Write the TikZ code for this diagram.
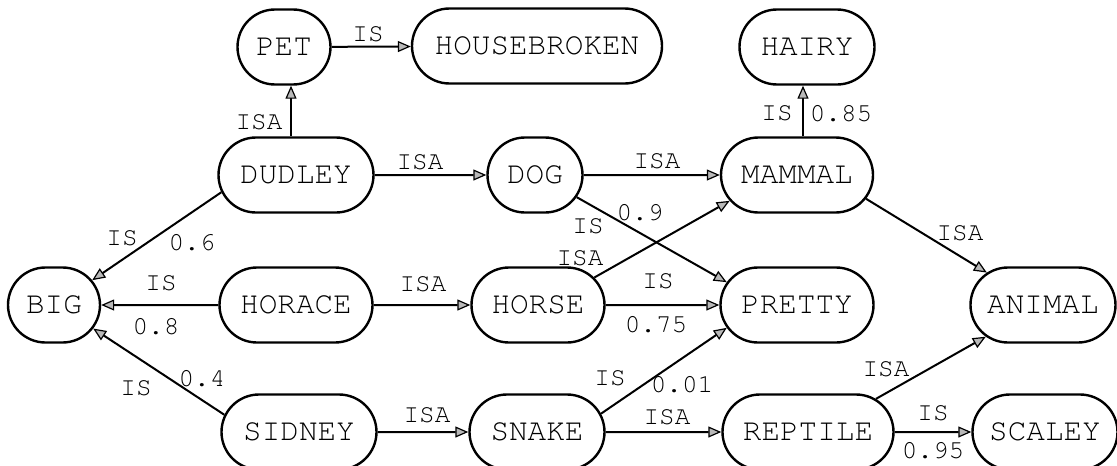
\documentclass[tikz,border=0pt]{standalone}
\usepackage[T1]{fontenc}
\usetikzlibrary{shapes.misc,arrows.meta}
\newcommand{\nodefont}{\fontfamily{pcr}\fontseries{m}\fontsize{31}{31}\selectfont}
\newcommand{\labfont}{\fontfamily{pcr}\fontseries{m}\fontsize{26}{26}\selectfont}
\begin{document}
\begin{tikzpicture}[x=1pt,y=-1pt,
  box/.style={rounded rectangle, draw, line width=2.4pt, minimum height=75pt,
    inner xsep=0pt, inner ysep=0pt, font=\nodefont},
  lab/.style={font=\labfont, inner sep=0pt},
  arr/.style={line width=2pt, -{Triangle[length=13pt,width=11pt,fill=gray!55,line width=1.2pt]}}]
\useasboundingbox (0,0) rectangle (1117,466);
% nodes
\node[box, minimum width=93pt]  (pet)     at (284,47)  {PET};
\node[box, minimum width=250pt] (hb)      at (537,46)  {HOUSEBROKEN};
\node[box, minimum width=135pt] (hairy)   at (807,47)  {HAIRY};
\node[box, minimum width=155pt] (dudley)  at (296,175) {DUDLEY};
\node[box, minimum width=95pt]  (dog)     at (535,175) {DOG};
\node[box, minimum width=152pt] (mammal)  at (797,175) {MAMMAL};
\node[box, minimum width=92pt]  (big)     at (54,305)  {BIG};
\node[box, minimum width=153pt] (horace)  at (296,305) {HORACE};
\node[box, minimum width=133pt] (horse)   at (538,305) {HORSE};
\node[box, minimum width=153pt] (pretty)  at (797,305) {PRETTY};
\node[box, minimum width=145pt] (animal)  at (1043,305) {ANIMAL};
\node[box, minimum width=155pt] (sidney)  at (299,432) {SIDNEY};
\node[box, minimum width=135pt] (snake)   at (537,432) {SNAKE};
\node[box, minimum width=171pt] (reptile) at (808,432) {REPTILE};
\node[box, minimum width=145pt] (scaley)  at (1045,432) {SCALEY};
% connectors
\draw[arr] (pet) -- (hb);
\draw[arr] ([xshift=-5pt]dudley.north) -- ([xshift=7pt]pet.south);
\draw[arr] (dudley) -- (dog);
\draw[arr] (dog) -- (mammal);
\draw[arr] ([xshift=6pt]mammal.north) -- ([xshift=-4pt]hairy.south);
\draw[arr] (dudley.193) -- (big.33);
\draw[arr] (horace) -- (big);
\draw[arr] (sidney.167) -- (big.329);
\draw[arr] (horace) -- (horse);
\draw[arr] (dog.332) -- (pretty.162);
\draw[arr] (horse.26) -- (mammal.201);
\draw[arr] (horse) -- (pretty);
\draw[arr] (mammal.341) -- (animal.150);
\draw[arr] (sidney) -- (snake);
\draw[arr] (snake.16) -- (pretty.198);
\draw[arr] (snake) -- (reptile);
\draw[arr] (reptile.26) -- (animal.209);
\draw[arr] (reptile) -- (scaley);
% labels
\node[lab] (l1)  at (368,34)  {IS};
\node[lab] (l2)  at (259,122) {ISA};
\node[lab] (l3)  at (420,162) {ISA};
\node[lab] (l4)  at (657,161) {ISA};
\node[lab] (l5)  at (777,113) {IS};
\node[lab] (l6)  at (841,113) {0.85};
\node[lab] (l7)  at (122,238) {IS};
\node[lab] (l8)  at (192,242) {0.6};
\node[lab] (l9)  at (161,283) {IS};
\node[lab] (l10) at (156,326) {0.8};
\node[lab] (l11) at (136,388) {IS};
\node[lab] (l12) at (202,378) {0.4};
\node[lab] (l13) at (423,284) {ISA};
\node[lab] (l14) at (588,226) {IS};
\node[lab] (l15) at (640,212) {0.9};
\node[lab] (l16) at (580,258) {ISA};
\node[lab] (l17) at (658,281) {IS};
\node[lab] (l18) at (656,324) {0.75};
\node[lab] (l19) at (960,233) {ISA};
\node[lab] (l20) at (427,415) {ISA};
\node[lab] (l21) at (610,378) {IS};
\node[lab] (l22) at (682,384) {0.01};
\node[lab] (l23) at (667,417) {ISA};
\node[lab] (l24) at (886,369) {ISA};
\node[lab] (l25) at (933,413) {IS};
\node[lab] (l26) at (933,450) {0.95};
\end{tikzpicture}
\end{document}
